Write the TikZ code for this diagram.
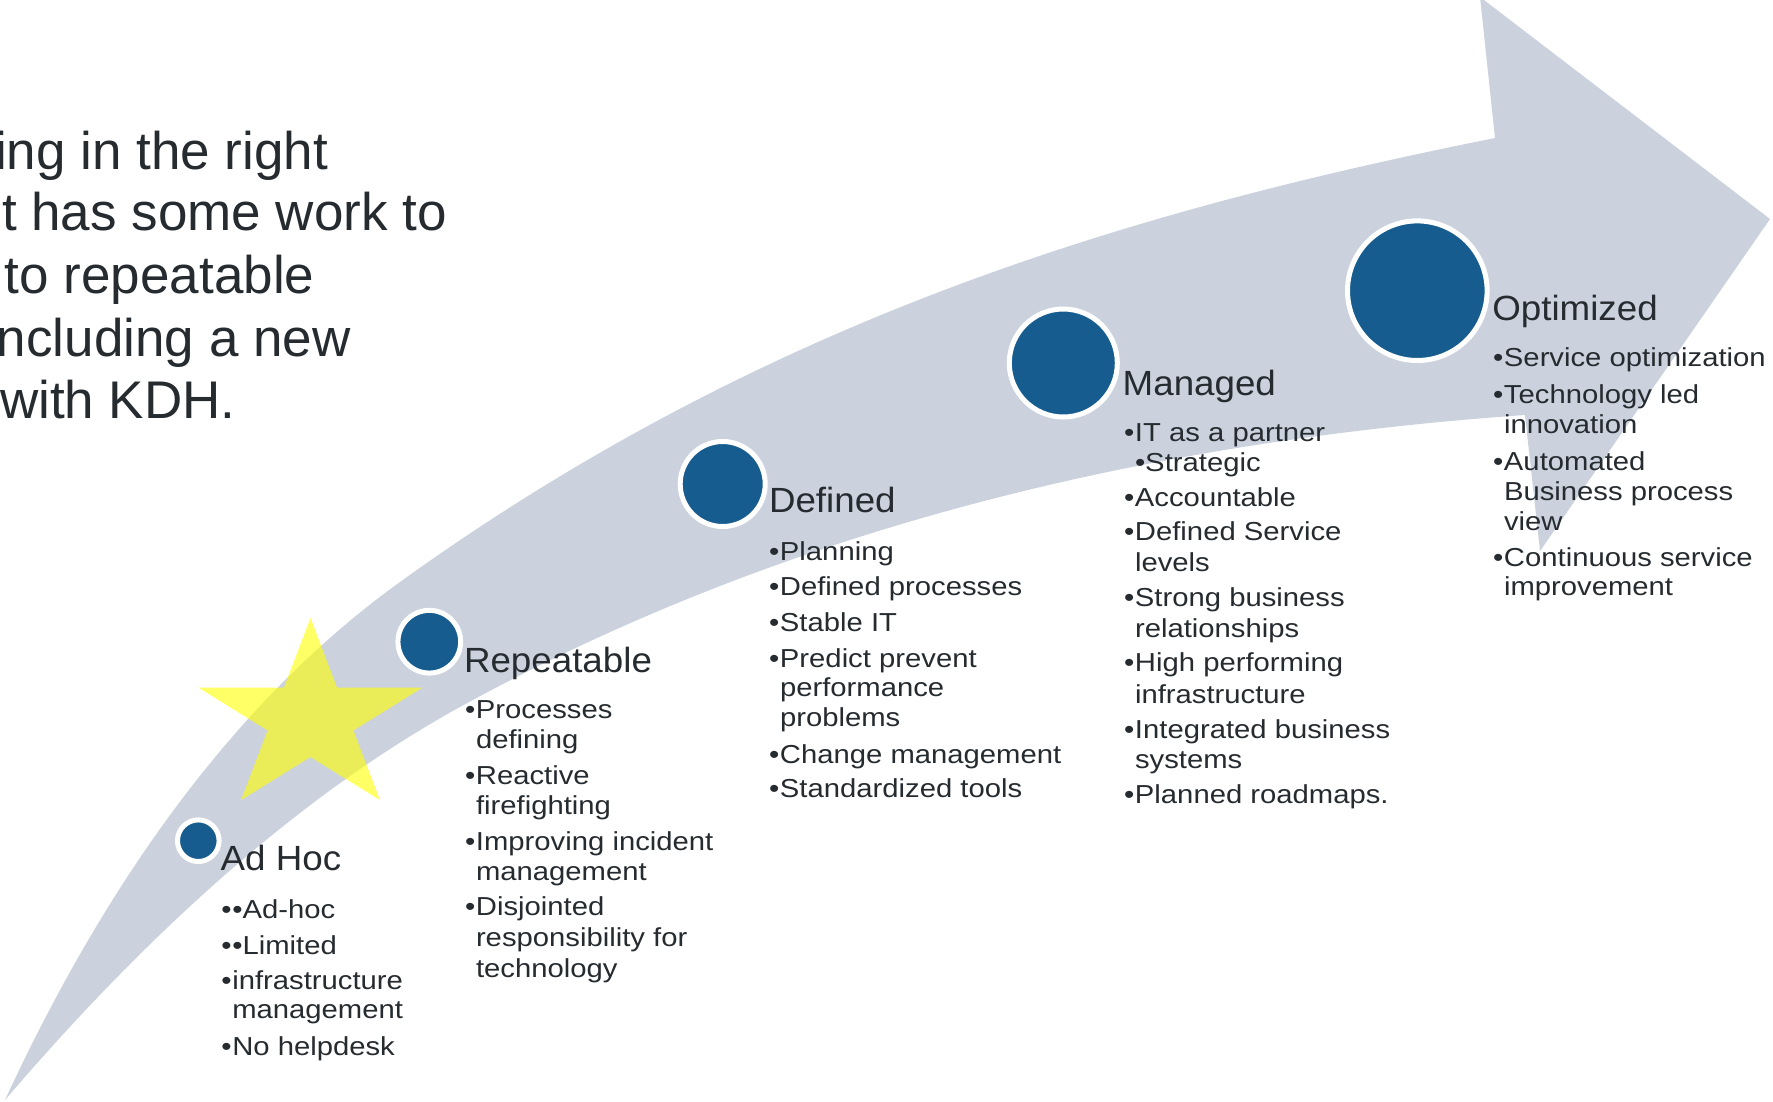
\documentclass[tikz,border=0pt]{standalone}
\usepackage{fontspec}
\setmainfont{Liberation Sans}
\newfontfamily\bodyfont[FakeStretch=1.125]{Liberation Sans}
\newfontfamily\headfont[FakeStretch=1.05]{Liberation Sans}
\definecolor{arrowgray}{RGB}{203,210,221}
\definecolor{stageblue}{RGB}{23,92,142}
\definecolor{txt}{RGB}{38,43,48}
\definecolor{staryellow}{RGB}{255,255,0}
\newcommand\bitem[1]{\makebox[11pt][l]{•}#1}
\begin{document}
\begin{tikzpicture}[x=1pt,y=-1pt,
  body/.style={anchor=base west, inner sep=0, outer sep=0, text=txt, font=\bodyfont\fontsize{26}{30}\selectfont},
  head/.style={anchor=base west, inner sep=0, outer sep=0, text=txt, font=\headfont\fontsize{35}{40}\selectfont},
  big/.style={anchor=base west, inner sep=0, outer sep=0, text=txt, font=\fontsize{53}{62}\selectfont},
  stage/.style={circle, fill=stageblue, draw=white, line width=5pt, inner sep=0, outer sep=0}]
\useasboundingbox (0,0) rectangle (1773,1101);
\fill[white] (0,0) rectangle (1773,1101);
% big curved arrow
\fill[arrowgray] (5,1100) .. controls (113.1,866.4) and (244.8,693.7) .. (400,582)
  .. controls (765,319.2) and (1130,211) .. (1495,138)
  -- (1480,-3) -- (1770,219) -- (1540,551) -- (1525,415)
  .. controls (1117,443.5) and (762,540.9) .. (460,707)
  .. controls (310.1,789.5) and (158.5,920.5) .. (5,1100) -- cycle;
% star
\fill[staryellow, fill opacity=0.6] (310.5,618) -- (337,687.5) -- (422.7,687.5) -- (353.4,730.5) -- (379.9,800) -- (310.5,757) -- (241.1,800) -- (267.6,730.5) -- (198.3,687.5) -- (284,687.5) -- cycle;
% stage circles
\node[stage, minimum size=41.6] (c1) at (198.3,840.7) {};
\node[stage, minimum size=62.7] (c2) at (429.3,641.7) {};
\node[stage, minimum size=85] (c3) at (722.7,484) {};
\node[stage, minimum size=108] (c4) at (1063.3,363) {};
\node[stage, minimum size=139.6] (c5) at (1417.3,290.7) {};
% left big text (clipped)
\node[big] (t1) at (-5,169) {ing in the right};
\node[big] (t2) at (2,230.7) {t has some work to};
\node[big] (t3) at (5,293.3) {to repeatable};
\node[big] (t4) at (-3,356.7) {ncluding a new};
\node[big] (t5) at (0,418.3) {with KDH.};
% Ad Hoc
\node[head] (h1) at (220.7,870.7) {Ad Hoc};
\node[body] (a1) at (221.3,918.3) {\bitem{•Ad-hoc}};
\node[body] (a2) at (221.3,954) {\bitem{•Limited}};
\node[body] (a3) at (221.3,989.3) {\bitem{infrastructure}};
\node[body] (a4) at (232.3,1018.3) {management};
\node[body] (a5) at (221.3,1055) {\bitem{No helpdesk}};
% Repeatable
\node[head] (h2) at (464,672) {Repeatable};
\node[body] (r1) at (465,718) {\bitem{Processes}};
\node[body] (r2) at (476,748) {defining};
\node[body] (r3) at (465,784) {\bitem{Reactive}};
\node[body] (r4) at (476,814) {firefighting};
\node[body] (r5) at (465,850) {\bitem{Improving incident}};
\node[body] (r6) at (476,880) {management};
\node[body] (r7) at (465,915) {\bitem{Disjointed}};
\node[body] (r8) at (476,946) {responsibility for};
\node[body] (r9) at (476,977) {technology};
% Defined
\node[head] (h3) at (769,512.7) {Defined};
\node[body] (d1) at (769,560) {\bitem{Planning}};
\node[body] (d2) at (769,595.7) {\bitem{Defined processes}};
\node[body] (d3) at (769,631.7) {\bitem{Stable IT}};
\node[body] (d4) at (769,667) {\bitem{Predict prevent}};
\node[body] (d5) at (780,696.7) {performance};
\node[body] (d6) at (780,726.7) {problems};
\node[body] (d7) at (769,763) {\bitem{Change management}};
\node[body] (d8) at (769,797.7) {\bitem{Standardized tools}};
% Managed
\node[head] (h4) at (1122.7,395) {Managed};
\node[body] (m1) at (1124,441.7) {\bitem{IT as a partner}};
\node[body] (m2) at (1135,471.7) {•Strategic};
\node[body] (m3) at (1124,506.7) {\bitem{Accountable}};
\node[body] (m4) at (1124,540.7) {\bitem{Defined Service}};
\node[body] (m5) at (1135,571.7) {levels};
\node[body] (m6) at (1124,606.7) {\bitem{Strong business}};
\node[body] (m7) at (1135,637.3) {relationships};
\node[body] (m8) at (1124,671.7) {\bitem{High performing}};
\node[body] (m9) at (1135,703.3) {infrastructure};
\node[body] (m10) at (1124,738.3) {\bitem{Integrated business}};
\node[body] (m11) at (1135,768.3) {systems};
\node[body] (m12) at (1124,803.3) {\bitem{Planned roadmaps.}};
% Optimized
\node[head] (h5) at (1492.3,320.7) {Optimized};
\node[body] (o1) at (1493,366.7) {\bitem{Service optimization}};
\node[body] (o2) at (1493,403.3) {\bitem{Technology led}};
\node[body] (o3) at (1504,433.3) {innovation};
\node[body] (o4) at (1493,470) {\bitem{Automated}};
\node[body] (o5) at (1504,500) {Business process};
\node[body] (o6) at (1504,530) {view};
\node[body] (o7) at (1493,566) {\bitem{Continuous service}};
\node[body] (o8) at (1504,595.3) {improvement};
\end{tikzpicture}
\end{document}
